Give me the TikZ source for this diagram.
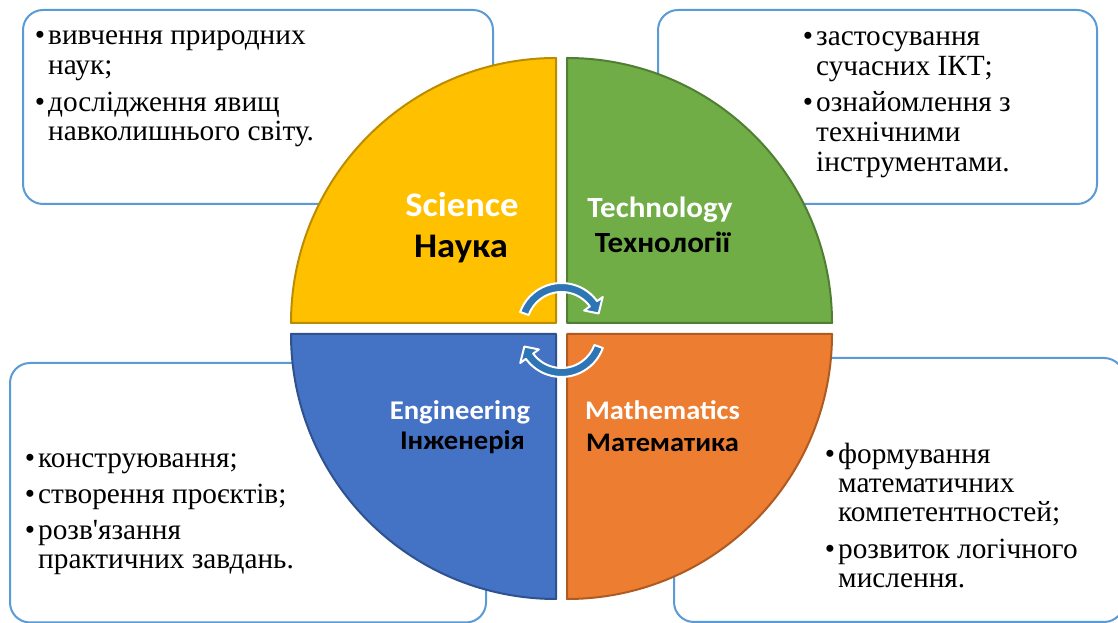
\documentclass[tikz,border=0pt]{standalone}
\usepackage{fontspec}
\setmainfont{Liberation Serif}[Ligatures=TeXOff]
\newfontfamily\labfont{Carlito}[FakeStretch=1.06]
\usetikzlibrary{calc}
\definecolor{qyel}{HTML}{FFC000}
\definecolor{qyelD}{HTML}{BC8C00}
\definecolor{qgrn}{HTML}{70AD47}
\definecolor{qgrnD}{HTML}{507E32}
\definecolor{qblu}{HTML}{4472C4}
\definecolor{qbluD}{HTML}{2F528F}
\definecolor{qorg}{HTML}{ED7D31}
\definecolor{qorgD}{HTML}{AE5A21}
\definecolor{boxline}{HTML}{5B9BD5}
\definecolor{arrblue}{HTML}{2E75B6}
\newcommand{\mybul}{\llap{\textbullet\hspace{3pt}}}
\tikzset{
  infobox/.style={draw=boxline, line width=2pt, rounded corners=20pt, fill=white},
  quad/.style={line width=2pt, line join=round},
  btxt/.style={anchor=base west, inner sep=0pt, font=\fontsize{29.3}{31}\selectfont},
  lab/.style={anchor=base, inner sep=0pt, font=\labfont\bfseries\fontsize{#1}{#1}\selectfont},
  cyc/.style={fill=arrblue, draw=white, line width=2pt, line join=round}
}
\begin{document}
\begin{tikzpicture}[x=1pt,y=1pt]
\useasboundingbox (0,0) rectangle (1118,623);
% info boxes
\path[infobox] (23,419) rectangle (493,613);
\path[infobox] (658,419) rectangle (1097,613);
\path[infobox] (10,0.5) rectangle (486,260);
\path[infobox] (674,1) rectangle (1124,265);
% quadrants
\coordinate (cY) at (556,300);
\coordinate (cG) at (567,300);
\coordinate (cB) at (556,289);
\coordinate (cO) at (567,289);
\filldraw[quad, fill=qyel, draw=qyelD] (cY) -- ++(-265pt,0) arc[start angle=180, end angle=90, radius=265pt] -- cycle;
\filldraw[quad, fill=qgrn, draw=qgrnD] (cG) -- ++(0,265pt) arc[start angle=90, end angle=0, radius=265pt] -- cycle;
\filldraw[quad, fill=qblu, draw=qbluD] (cB) -- ++(0,-265pt) arc[start angle=270, end angle=180, radius=265pt] -- cycle;
\filldraw[quad, fill=qorg, draw=qorgD] (cO) -- ++(265pt,0) arc[start angle=0, end angle=-90, radius=265pt] -- cycle;
% cycle arrows
\coordinate (aT) at (561.5,296);
\coordinate (aB) at (561.5,290);
\path[cyc] ($(aT)+(160:44pt)$) arc[start angle=160, end angle=36, radius=44pt]
  -- ($(aT)+(36:51pt)$) -- ($(aT)+(20:39.5pt)$) -- ($(aT)+(36:28pt)$) -- ($(aT)+(36:35pt)$)
  arc[start angle=36, end angle=160, radius=35pt] -- cycle;
\path[cyc] ($(aB)+(-20:44pt)$) arc[start angle=-20, end angle=-144, radius=44pt]
  -- ($(aB)+(-144:51pt)$) -- ($(aB)+(-160:39.5pt)$) -- ($(aB)+(-144:28pt)$) -- ($(aB)+(-144:35pt)$)
  arc[start angle=-144, end angle=-20, radius=35pt] -- cycle;
% quadrant labels
\node[lab=34.5, text=white] (sci) at (462,406) {Science};
\node[lab=34.5, text=black] (nau) at (461,365) {Наука};
\node[lab=29.3, text=white] (tec) at (660,405) {Technology};
\node[lab=29.3, text=black] (tex) at (662.5,370) {Технології};
\node[lab=27, text=white] (eng) at (460,203) {Engineering};
\node[lab=27, text=black] (inz) at (462.5,173) {Інженерія};
\node[lab=26.8, text=white] (mat) at (662.5,203) {Mathematics};
\node[lab=26.8, text=black] (mtk) at (662.5,171) {Математика};
% box texts
\node[btxt] (a1) at (48,578) {\mybul вивчення природних};
\node[btxt] (a2) at (48,548) {наук;};
\node[btxt] (a3) at (48,511) {\mybul дослідження явищ};
\node[btxt] (a4) at (48,482) {навколишнього світу.};
\node[btxt] (b1) at (816,577) {\mybul застосування};
\node[btxt] (b2) at (816,547) {сучасних ІКТ;};
\node[btxt] (b3) at (816,511) {\mybul ознайомлення з};
\node[btxt] (b4) at (816,481) {технічними};
\node[btxt] (b5) at (816,451) {інструментами.};
\node[btxt] (c1) at (38,155) {\mybul конструювання;};
\node[btxt] (c2) at (38,119) {\mybul створення проєктів;};
\node[btxt] (c3) at (38,83) {\mybul розв'язання};
\node[btxt] (c4) at (38,54) {практичних завдань.};
\node[btxt] (d1) at (838,159) {\mybul формування};
\node[btxt] (d2) at (838,130) {математичних};
\node[btxt] (d3) at (838,101) {компетентностей;};
\node[btxt] (d4) at (838,64) {\mybul розвиток логічного};
\node[btxt] (d5) at (838,35) {мислення.};
\end{tikzpicture}
\end{document}
